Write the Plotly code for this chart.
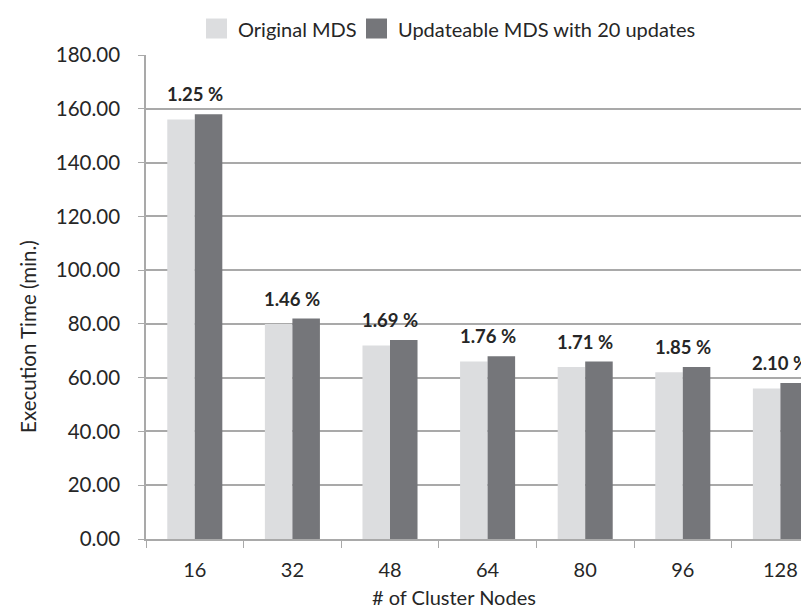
import plotly.graph_objects as go

nodes = ["16", "32", "48", "64", "80", "96", "128"]
original_mds = [156, 80, 72, 66, 64, 62, 56]
updateable_mds = [158, 82, 74, 68, 66, 64, 58]
overhead_labels = ["1.25 %", "1.46 %", "1.69 %", "1.76 %", "1.71 %", "1.85 %", "2.10 %"]
y_ticks = [0, 20, 40, 60, 80, 100, 120, 140, 160, 180]

W, H = 809, 609
L, R, T, B = 138, 0, 46.5, 78.3
PW, PH = W - L - R, H - T - B
CAT_PX = 97.6

def px_x(p):
    return (p - L) / PW

def px_y(p):
    return (H - B - p) / PH

FONT = "Lato, 'Open Sans', sans-serif"
TXT = "#262626"
LIGHT = "#dcdddf"
DARK = "#75767a"
GRID = "#a9a9a9"

fig = go.Figure()
fig.add_bar(x=nodes, y=original_mds, name="Original MDS", marker_color=LIGHT,
            marker_line_width=0, showlegend=False)
fig.add_bar(x=nodes, y=updateable_mds, name="Updateable MDS with 20 updates",
            marker_color=DARK, marker_line_width=0, showlegend=False)

for i, (v, t) in enumerate(zip(updateable_mds, overhead_labels)):
    fig.add_annotation(x=i, y=v, text="<b>%s</b>" % t, showarrow=False,
                       yanchor="bottom", yshift=7, xref="x", yref="y",
                       font=dict(family=FONT, size=18.5, color=TXT))

# manual legend
leg_y = 20
sq = 10
items = [("Original MDS", LIGHT, 198, 228), ("Updateable MDS with 20 updates", DARK, 358, 388)]
for name, col, x0, tx in items:
    fig.add_shape(type="rect", xref="paper", yref="paper",
                  x0=px_x(x0), x1=px_x(x0 + 21), y0=px_y(leg_y + sq), y1=px_y(leg_y - sq),
                  fillcolor=col, line_width=0)
    fig.add_annotation(xref="paper", yref="paper", x=px_x(tx), y=px_y(leg_y),
                       xanchor="left", yanchor="middle", text=name, showarrow=False,
                       font=dict(family=FONT, size=20, color=TXT))

# axis titles
fig.add_annotation(xref="paper", yref="paper", x=px_x(446), y=px_y(589),
                   text="# of Cluster Nodes", showarrow=False, xanchor="center",
                   yanchor="middle", font=dict(family=FONT, size=20, color=TXT))
fig.add_annotation(xref="paper", yref="paper", x=px_x(20), y=px_y(328.5),
                   text="Execution Time (min.)", textangle=-90, showarrow=False,
                   xanchor="center", yanchor="middle",
                   font=dict(family=FONT, size=20.5, color=TXT))

fig.update_layout(
    width=W, height=H,
    margin=dict(l=L, r=R, t=T, b=B, pad=0),
    paper_bgcolor="white", plot_bgcolor="white",
    barmode="group", bargap=0.436, bargroupgap=0,
    font=dict(family=FONT, size=20, color=TXT),
)
fig.update_xaxes(type="category", range=[-0.5, -0.5 + PW / CAT_PX],
                 tickson="boundaries", ticks="outside", ticklen=7, tickcolor=GRID,
                 showline=True, linecolor=GRID, linewidth=1.5, showgrid=False,
                 ticklabelstandoff=12, tickfont=dict(family=FONT, size=20, color=TXT))
fig.update_yaxes(range=[0, 180], tickvals=y_ticks, tickformat=".2f",
                 ticks="outside", ticklen=6, tickcolor=GRID,
                 showline=True, linecolor=GRID, linewidth=1.5,
                 showgrid=True, gridcolor=GRID, gridwidth=1.5, zeroline=False,
                 ticklabelstandoff=14, tickfont=dict(family=FONT, size=20.5, color=TXT))

fig.write_html("out.html")
